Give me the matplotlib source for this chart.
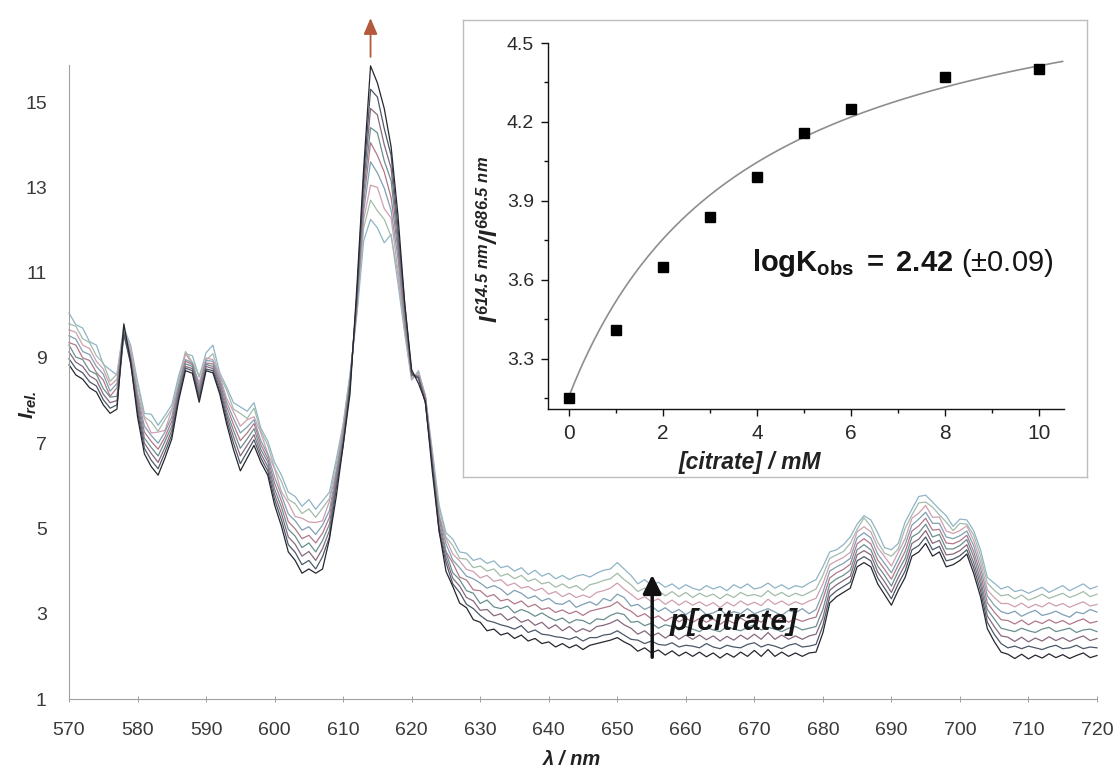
import numpy as np
import matplotlib
matplotlib.use("Agg")
import matplotlib.pyplot as plt
from matplotlib.ticker import MultipleLocator, FixedLocator, FormatStrFormatter

plt.rcParams['font.family'] = ['Liberation Sans', 'DejaVu Sans']
plt.rcParams['mathtext.fontset'] = 'custom'
plt.rcParams['mathtext.rm'] = 'Liberation Sans:italic:bold'
plt.rcParams['mathtext.it'] = 'Liberation Sans:italic:bold'
plt.rcParams['mathtext.bf'] = 'Liberation Sans:bold'
plt.rcParams['mathtext.sf'] = 'Liberation Sans'

# ---------------- data ----------------
wavelength_nm = np.arange(570, 721)          # 1 nm steps, 570-720 nm
citrate_mM = [0, 1, 2, 3, 4, 5, 6, 8, 10]

spec_00 = [10.05, 9.78, 9.70, 9.38, 9.30, 8.85, 8.72, 8.60, 9.70, 9.30,
           8.45, 7.70, 7.68, 7.42, 7.65, 7.90, 8.58, 9.10, 9.05, 8.55,
           9.12, 9.30, 8.65, 8.32, 7.95, 7.85, 7.75, 7.95, 7.35, 7.05,
           6.55, 6.25, 5.85, 5.75, 5.52, 5.68, 5.45, 5.65, 5.85, 6.62,
           7.45, 8.62, 10.00, 11.75, 12.25, 12.05, 11.70, 11.90, 10.75, 9.55,
           8.48, 8.70, 8.10, 6.85, 5.55, 4.90, 4.75, 4.45, 4.42, 4.25,
           4.30, 4.18, 4.24, 4.08, 4.12, 4.00, 4.08, 3.92, 4.02, 3.88,
           3.95, 3.82, 3.90, 3.80, 3.88, 3.92, 3.86, 3.95, 4.02, 4.05,
           4.20, 4.05, 3.90, 3.70, 3.80, 3.66, 3.74, 3.62, 3.70, 3.58,
           3.68, 3.60, 3.55, 3.66, 3.58, 3.64, 3.54, 3.68, 3.60, 3.70,
           3.58, 3.62, 3.72, 3.60, 3.68, 3.58, 3.66, 3.62, 3.72, 3.80,
           4.10, 4.45, 4.50, 4.62, 4.80, 5.10, 5.30, 5.20, 4.90, 4.55,
           4.50, 4.65, 5.15, 5.45, 5.75, 5.78, 5.62, 5.45, 5.30, 5.05,
           5.22, 5.20, 4.95, 4.50, 3.85, 3.72, 3.58, 3.64, 3.52, 3.56,
           3.48, 3.55, 3.62, 3.50, 3.58, 3.66, 3.54, 3.62, 3.70, 3.58,
           3.64]
spec_01 = [9.80, 9.74, 9.45, 9.36, 9.05, 8.88, 8.45, 8.62, 9.75, 9.15,
           8.35, 7.62, 7.50, 7.28, 7.55, 7.80, 8.50, 9.15, 8.90, 8.58,
           8.95, 9.10, 8.58, 8.25, 7.80, 7.70, 7.58, 7.82, 7.28, 6.95,
           6.42, 6.10, 5.68, 5.58, 5.35, 5.46, 5.26, 5.48, 5.70, 6.52,
           7.40, 8.58, 10.10, 12.05, 12.70, 12.45, 12.25, 11.85, 10.95, 9.62,
           8.50, 8.66, 8.12, 6.72, 5.48, 4.80, 4.60, 4.30, 4.28, 4.08,
           4.12, 4.00, 4.05, 3.88, 3.94, 3.82, 3.90, 3.76, 3.82, 3.70,
           3.74, 3.62, 3.70, 3.60, 3.66, 3.55, 3.68, 3.72, 3.78, 3.82,
           3.95, 3.80, 3.68, 3.52, 3.60, 3.48, 3.55, 3.42, 3.52, 3.40,
           3.50, 3.38, 3.48, 3.40, 3.46, 3.35, 3.46, 3.38, 3.50, 3.42,
           3.45, 3.40, 3.54, 3.42, 3.50, 3.40, 3.48, 3.42, 3.50, 3.58,
           3.90, 4.30, 4.38, 4.46, 4.65, 4.98, 5.25, 5.05, 4.68, 4.42,
           4.35, 4.52, 5.00, 5.32, 5.60, 5.62, 5.50, 5.32, 5.15, 4.95,
           5.12, 5.10, 4.85, 4.36, 3.72, 3.55, 3.42, 3.45, 3.35, 3.44,
           3.32, 3.38, 3.46, 3.36, 3.42, 3.48, 3.38, 3.44, 3.52, 3.40,
           3.46]
spec_02 = [9.66, 9.60, 9.30, 9.22, 8.92, 8.74, 8.35, 8.50, 9.62, 9.20,
           8.18, 7.58, 7.24, 7.26, 7.30, 7.78, 8.36, 9.10, 8.85, 8.42,
           9.00, 8.96, 8.58, 8.05, 7.74, 7.40, 7.55, 7.62, 7.24, 6.76,
           6.40, 5.86, 5.60, 5.28, 5.24, 5.15, 5.14, 5.18, 5.64, 6.36,
           7.38, 8.46, 10.18, 12.25, 13.05, 13.00, 12.50, 12.28, 11.05, 9.74,
           8.52, 8.64, 8.08, 6.74, 5.32, 4.76, 4.40, 4.24, 4.04, 3.99,
           3.84, 3.90, 3.76, 3.80, 3.66, 3.72, 3.60, 3.64, 3.54, 3.60,
           3.46, 3.52, 3.40, 3.48, 3.38, 3.44, 3.38, 3.50, 3.54, 3.60,
           3.72, 3.58, 3.46, 3.33, 3.40, 3.28, 3.35, 3.22, 3.32, 3.20,
           3.30, 3.20, 3.28, 3.18, 3.26, 3.14, 3.27, 3.18, 3.30, 3.20,
           3.27, 3.19, 3.34, 3.22, 3.30, 3.20, 3.28, 3.22, 3.30, 3.36,
           3.70, 4.15, 4.24, 4.32, 4.44, 4.92, 5.04, 4.92, 4.55, 4.34,
           4.12, 4.44, 4.76, 5.24, 5.36, 5.54, 5.26, 5.27, 4.94, 4.88,
           4.95, 5.06, 4.72, 4.22, 3.56, 3.38, 3.24, 3.24, 3.16, 3.25,
           3.14, 3.22, 3.16, 3.26, 3.18, 3.24, 3.15, 3.22, 3.28, 3.18,
           3.22]
spec_03 = [9.52, 9.44, 9.15, 9.08, 8.80, 8.62, 8.22, 8.40, 9.66, 9.05,
           8.12, 7.40, 7.18, 7.00, 7.26, 7.62, 8.36, 8.96, 8.88, 8.34,
           8.94, 8.92, 8.50, 7.96, 7.58, 7.24, 7.38, 7.55, 7.06, 6.73,
           6.20, 5.78, 5.34, 5.18, 4.96, 5.04, 4.86, 5.08, 5.42, 6.32,
           7.25, 8.48, 10.20, 12.44, 13.60, 13.34, 12.98, 12.46, 11.34, 9.76,
           8.60, 8.55, 8.10, 6.62, 5.30, 4.64, 4.26, 4.08, 3.88, 3.82,
           3.72, 3.60, 3.66, 3.58, 3.44, 3.55, 3.48, 3.36, 3.42, 3.30,
           3.36, 3.24, 3.22, 3.31, 3.15, 3.22, 3.28, 3.20, 3.36, 3.30,
           3.46, 3.38, 3.18, 3.22, 3.10, 3.18, 3.05, 3.14, 3.02, 3.10,
           2.98, 3.08, 3.12, 2.98, 3.02, 3.10, 2.96, 3.05, 3.00, 3.12,
           3.00, 3.06, 3.12, 3.04, 2.96, 3.08, 3.02, 3.12, 3.00, 3.10,
           3.50, 4.00, 4.10, 4.18, 4.30, 4.78, 4.90, 4.78, 4.40, 4.18,
           3.96, 4.28, 4.62, 5.08, 5.22, 5.38, 5.12, 5.12, 4.80, 4.76,
           4.83, 4.94, 4.60, 4.08, 3.42, 3.20, 3.05, 3.00, 3.06, 2.94,
           3.02, 3.08, 2.96, 3.00, 3.06, 2.98, 2.92, 3.04, 3.00, 3.10,
           3.04]
spec_04 = [9.36, 9.30, 9.00, 8.94, 8.66, 8.48, 8.10, 8.30, 9.64, 9.00,
           8.04, 7.26, 7.04, 6.86, 7.14, 7.52, 8.28, 8.92, 8.84, 8.26,
           8.88, 8.86, 8.44, 7.86, 7.44, 7.06, 7.24, 7.46, 6.96, 6.64,
           6.06, 5.64, 5.16, 4.99, 4.76, 4.84, 4.66, 4.89, 5.26, 6.24,
           7.16, 8.44, 10.26, 12.64, 14.05, 13.75, 13.36, 12.76, 11.54, 9.86,
           8.64, 8.52, 8.08, 6.56, 5.24, 4.46, 4.19, 3.86, 3.79, 3.56,
           3.54, 3.40, 3.45, 3.30, 3.34, 3.23, 3.30, 3.16, 3.22, 3.10,
           3.14, 3.03, 3.09, 3.00, 3.06, 2.96, 3.06, 3.10, 3.14, 3.18,
           3.28, 3.14, 3.06, 2.93, 3.00, 2.88, 2.95, 2.83, 2.92, 2.81,
           2.90, 2.80, 2.89, 2.80, 2.88, 2.75, 2.86, 2.78, 2.90, 2.80,
           2.89, 2.80, 2.95, 2.82, 2.90, 2.80, 2.88, 2.82, 2.88, 2.92,
           3.34, 3.84, 3.96, 4.04, 4.16, 4.64, 4.76, 4.64, 4.26, 4.04,
           3.81, 4.14, 4.46, 4.94, 5.06, 5.24, 4.96, 4.98, 4.66, 4.64,
           4.71, 4.84, 4.46, 3.94, 3.26, 3.04, 2.86, 2.84, 2.76, 2.85,
           2.74, 2.83, 2.77, 2.86, 2.78, 2.84, 2.75, 2.82, 2.88, 2.78,
           2.82]
spec_05 = [9.30, 9.02, 8.96, 8.70, 8.62, 8.28, 8.08, 8.10, 9.62, 8.95,
           7.96, 7.12, 6.90, 6.70, 7.04, 7.40, 8.24, 8.86, 8.80, 8.18,
           8.85, 8.80, 8.38, 7.74, 7.30, 6.88, 7.10, 7.34, 6.85, 6.56,
           5.92, 5.50, 4.98, 4.82, 4.55, 4.66, 4.45, 4.72, 5.10, 6.16,
           7.08, 8.40, 10.34, 12.86, 14.40, 14.28, 13.62, 13.16, 11.65, 10.05,
           8.58, 8.58, 7.98, 6.60, 5.08, 4.44, 3.96, 3.80, 3.54, 3.48,
           3.24, 3.32, 3.16, 3.12, 3.18, 3.02, 3.10, 3.04, 2.94, 3.02,
           2.92, 2.84, 2.90, 2.78, 2.86, 2.84, 2.76, 2.88, 2.86, 2.96,
           3.02, 2.98, 2.80, 2.82, 2.72, 2.78, 2.66, 2.74, 2.70, 2.62,
           2.70, 2.64, 2.58, 2.68, 2.62, 2.58, 2.70, 2.64, 2.60, 2.68,
           2.74, 2.62, 2.68, 2.64, 2.58, 2.66, 2.70, 2.62, 2.66, 2.70,
           3.10, 3.70, 3.82, 3.90, 4.02, 4.50, 4.62, 4.50, 4.12, 3.90,
           3.65, 4.00, 4.30, 4.80, 4.90, 5.10, 4.80, 4.86, 4.52, 4.52,
           4.60, 4.74, 4.34, 3.80, 3.10, 2.88, 2.66, 2.62, 2.58, 2.66,
           2.60, 2.56, 2.64, 2.68, 2.58, 2.62, 2.66, 2.56, 2.62, 2.64,
           2.58]
spec_06 = [9.14, 8.90, 8.80, 8.58, 8.48, 8.15, 7.95, 8.00, 9.58, 8.90,
           7.85, 7.00, 6.76, 6.55, 6.90, 7.30, 8.15, 8.80, 8.75, 8.10,
           8.80, 8.75, 8.30, 7.65, 7.15, 6.70, 6.95, 7.20, 6.75, 6.45,
           5.80, 5.35, 4.80, 4.63, 4.35, 4.46, 4.25, 4.53, 4.95, 6.05,
           7.00, 8.35, 10.40, 13.05, 14.85, 14.70, 14.00, 13.45, 11.85, 10.15,
           8.60, 8.55, 7.95, 6.55, 5.00, 4.32, 3.83, 3.65, 3.38, 3.30,
           3.08, 3.10, 2.95, 3.00, 2.85, 2.93, 2.80, 2.86, 2.73, 2.80,
           2.65, 2.74, 2.60, 2.70, 2.57, 2.65, 2.58, 2.70, 2.73, 2.78,
           2.86, 2.74, 2.66, 2.52, 2.60, 2.47, 2.55, 2.43, 2.53, 2.40,
           2.50, 2.40, 2.50, 2.39, 2.48, 2.36, 2.47, 2.38, 2.50, 2.40,
           2.52, 2.40, 2.56, 2.40, 2.50, 2.40, 2.48, 2.40, 2.48, 2.52,
           2.90, 3.55, 3.68, 3.78, 3.88, 4.38, 4.48, 4.38, 3.98, 3.75,
           3.50, 3.85, 4.15, 4.65, 4.75, 4.95, 4.65, 4.72, 4.38, 4.40,
           4.48, 4.62, 4.20, 3.68, 2.95, 2.70, 2.48, 2.45, 2.35, 2.45,
           2.34, 2.43, 2.36, 2.46, 2.37, 2.44, 2.35, 2.42, 2.48, 2.37,
           2.42]
spec_08 = [8.98, 8.75, 8.65, 8.44, 8.34, 8.02, 7.82, 7.90, 9.55, 8.86,
           7.74, 6.88, 6.60, 6.40, 6.78, 7.20, 8.08, 8.76, 8.70, 8.04,
           8.74, 8.70, 8.22, 7.55, 7.00, 6.52, 6.80, 7.08, 6.65, 6.35,
           5.68, 5.20, 4.62, 4.44, 4.15, 4.25, 4.05, 4.34, 4.80, 5.95,
           6.93, 8.30, 10.48, 13.25, 15.30, 15.12, 14.38, 13.75, 12.05, 10.25,
           8.64, 8.52, 7.94, 6.50, 4.93, 4.20, 3.70, 3.50, 3.22, 3.12,
           2.96, 2.84, 2.80, 2.74, 2.70, 2.64, 2.72, 2.56, 2.62, 2.52,
           2.50, 2.46, 2.44, 2.40, 2.46, 2.36, 2.44, 2.44, 2.50, 2.52,
           2.60, 2.50, 2.40, 2.38, 2.30, 2.36, 2.28, 2.26, 2.32, 2.22,
           2.26, 2.24, 2.20, 2.30, 2.22, 2.18, 2.26, 2.22, 2.20, 2.28,
           2.32, 2.22, 2.28, 2.24, 2.18, 2.26, 2.30, 2.22, 2.24, 2.28,
           2.72, 3.40, 3.54, 3.64, 3.74, 4.24, 4.34, 4.24, 3.84, 3.60,
           3.35, 3.70, 4.00, 4.50, 4.60, 4.80, 4.50, 4.58, 4.24, 4.28,
           4.36, 4.50, 4.08, 3.54, 2.80, 2.52, 2.30, 2.20, 2.24, 2.18,
           2.24, 2.20, 2.16, 2.22, 2.26, 2.18, 2.20, 2.26, 2.18, 2.22,
           2.20]
spec_10 = [8.84, 8.60, 8.50, 8.30, 8.20, 7.90, 7.70, 7.80, 9.80, 8.90,
           7.62, 6.75, 6.45, 6.25, 6.65, 7.10, 8.00, 8.70, 8.64, 7.96,
           8.70, 8.65, 8.15, 7.45, 6.85, 6.35, 6.65, 6.95, 6.55, 6.25,
           5.55, 5.05, 4.45, 4.25, 3.95, 4.05, 3.95, 4.05, 4.75, 5.75,
           6.95, 8.15, 10.65, 13.45, 15.85, 15.45, 14.85, 13.95, 12.35, 10.25,
           8.72, 8.40, 7.98, 6.35, 4.95, 4.00, 3.64, 3.25, 3.14, 2.86,
           2.80, 2.60, 2.64, 2.50, 2.55, 2.42, 2.50, 2.36, 2.42, 2.30,
           2.34, 2.22, 2.30, 2.20, 2.27, 2.16, 2.26, 2.30, 2.34, 2.38,
           2.44, 2.34, 2.26, 2.12, 2.20, 2.08, 2.15, 2.03, 2.13, 2.01,
           2.10, 2.00, 2.10, 1.99, 2.08, 1.96, 2.07, 1.98, 2.10, 2.00,
           2.14, 2.00, 2.16, 2.00, 2.10, 2.00, 2.08, 2.00, 2.08, 2.10,
           2.55, 3.25, 3.40, 3.50, 3.60, 4.10, 4.20, 4.10, 3.70, 3.45,
           3.20, 3.55, 3.85, 4.35, 4.45, 4.65, 4.35, 4.45, 4.10, 4.15,
           4.25, 4.40, 3.95, 3.40, 2.65, 2.35, 2.10, 2.05, 1.95, 2.05,
           1.94, 2.03, 1.96, 2.06, 1.97, 2.04, 1.95, 2.02, 2.08, 1.97,
           2.02]

spectra = [spec_00, spec_01, spec_02, spec_03, spec_04,
           spec_05, spec_06, spec_08, spec_10]

# intensity ratio from the titration (inset)
ratio_I = [3.15, 3.41, 3.65, 3.84, 3.99, 4.16, 4.25, 4.37, 4.40]
fit_y0 = 3.16
fit_ymax = 4.89
fit_logK = 2.42

# ---------------- styling ----------------
curve_colors = ['#8fb4c6', '#a3bca9', '#cf9fb0', '#7f9fb2', '#b07888',
                '#6a8e8e', '#86687c', '#4b5868', '#26262f']

W, H = 1116, 767
fig = plt.figure(figsize=(W / 100, H / 100), dpi=100)
fig.patch.set_facecolor('white')

# main spectra axes
ax = fig.add_axes([69 / W, 1 - 699 / H, 1028 / W, 634 / H])
for spec, col in zip(spectra, curve_colors):
    ax.plot(wavelength_nm, spec, color=col, lw=0.9, clip_on=False)

ax.set_xlim(570, 720)
ax.set_ylim(1, 15.87)
for s in ('top', 'right'):
    ax.spines[s].set_visible(False)
for s in ('left', 'bottom'):
    ax.spines[s].set_color('#a0a0a0')
    ax.spines[s].set_linewidth(0.8)
ax.set_xticks(range(570, 721, 10))
ax.set_yticks(range(1, 16, 2))
ax.tick_params(axis='x', direction='inout', length=5, width=0.7,
               color='#a0a0a0', labelsize=14, labelcolor='#3a3a3a', pad=14)
ax.tick_params(axis='y', length=0, labelsize=14, labelcolor='#3a3a3a', pad=16)

ax.set_xlabel('λ / nm', fontsize=14.5, fontweight='bold', fontstyle='italic',
              color='#222222')
ax.xaxis.set_label_coords(0.489, -0.080)
ax.set_ylabel(r'$I_{rel.}$', fontsize=15, color='#222222')
ax.yaxis.set_label_coords(-0.029, 0.464)

# arrows and annotation on the spectra
ax.annotate('', xy=(614, 16.97), xytext=(614, 16.06),
            arrowprops=dict(arrowstyle='-|>,head_width=0.3,head_length=0.7',
                            color='#b35a3c', lw=1.3, mutation_scale=14,
                            shrinkA=0, shrinkB=0),
            annotation_clip=False)
ax.annotate('', xy=(655.1, 3.91), xytext=(655.1, 1.98),
            arrowprops=dict(arrowstyle='-|>,head_width=0.4,head_length=0.8',
                            color='#111111', lw=2.5, mutation_scale=14,
                            shrinkA=0, shrinkB=0))
ax.text(657.7, 2.81, 'p[citrate]', fontsize=21.5, fontweight='bold',
        fontstyle='italic', va='center', ha='left', color='#151515')

# inset frame
frame = fig.add_axes([463 / W, 1 - 477 / H, 624 / W, 457 / H])
frame.set_xticks([])
frame.set_yticks([])
frame.set_facecolor('white')
for s in frame.spines.values():
    s.set_color('#bdbdbd')
    s.set_linewidth(1.0)

# inset titration plot
iax = fig.add_axes([548 / W, 1 - 409 / H, 516 / W, 366 / H])
iax.set_facecolor('none')
conc = np.linspace(0, 10.5, 300)
K_per_mM = 10 ** fit_logK / 1000.0
fit_curve = fit_y0 + (fit_ymax - fit_y0) * K_per_mM * conc / (1 + K_per_mM * conc)
iax.plot(conc, fit_curve, color='#8e8e8e', lw=1.2)
iax.plot(citrate_mM, ratio_I, 's', color='black', ms=7.5, clip_on=False, zorder=3)

iax.set_xlim(-0.45, 10.53)
iax.set_ylim(3.11, 4.5)
for s in ('top', 'right'):
    iax.spines[s].set_visible(False)
for s in ('left', 'bottom'):
    iax.spines[s].set_color('#111111')
    iax.spines[s].set_linewidth(1.0)
iax.xaxis.set_major_locator(MultipleLocator(2))
iax.xaxis.set_minor_locator(MultipleLocator(1))
iax.yaxis.set_major_locator(FixedLocator([3.3, 3.6, 3.9, 4.2, 4.5]))
iax.yaxis.set_minor_locator(FixedLocator([3.15, 3.45, 3.75, 4.05, 4.35]))
iax.yaxis.set_major_formatter(FormatStrFormatter('%.1f'))
iax.tick_params(which='major', direction='out', length=5, width=1.0, color='#111111')
iax.tick_params(which='minor', direction='out', length=3, width=1.0, color='#111111')
iax.tick_params(axis='x', which='major', labelsize=15, labelcolor='#2a2a2a', pad=6)
iax.tick_params(axis='y', which='major', labelsize=14, labelcolor='#2a2a2a', pad=5)

iax.set_xlabel('[citrate] / mM', fontsize=16.5, fontweight='bold',
               fontstyle='italic', color='#222222')
iax.xaxis.set_label_coords(0.392, -0.115)
iax.set_ylabel(r'$I^{614.5\ nm}/I^{686.5\ nm}$', fontsize=17, color='#222222')
iax.yaxis.set_label_coords(-0.088, 0.462)

iax.text(0.395, 0.40,
         r'$\mathbf{logK}_{\mathbf{obs}}\mathbf{\;=\;2.42}\ \mathsf{(\pm0.09)}$',
         transform=iax.transAxes, fontsize=21, va='center', ha='left',
         color='#151515')

fig.savefig('out.png', dpi=100)
